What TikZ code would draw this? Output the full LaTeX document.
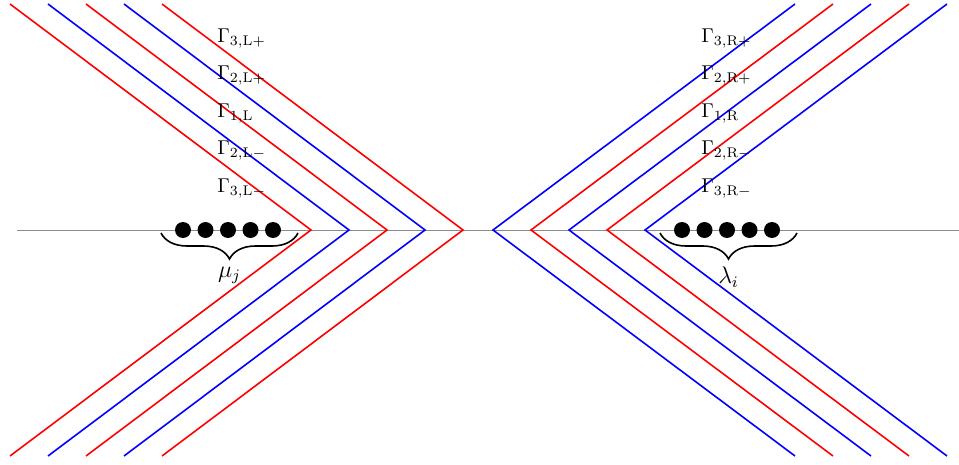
\documentclass[tikz,border=0pt]{standalone}
\usetikzlibrary{decorations.pathreplacing}
\definecolor{cred}{RGB}{255,0,0}
\definecolor{cblue}{RGB}{0,0,255}
\tikzset{
  contr/.style={line width=0.8pt},
  redc/.style={contr,draw=cred},
  bluec/.style={contr,draw=cblue},
  axisline/.style={line width=0.4pt,draw=black!45},
  dotpt/.style={circle,fill=black,inner sep=0pt,minimum size=8pt},
  bracec/.style={decorate,decoration={brace,mirror,amplitude=13pt},line width=0.8pt},
  glabel/.style={anchor=base west,inner sep=0pt},
  blabel/.style={midway,below=16.5pt,inner sep=0pt,font=\large}
}
\begin{document}
\begin{tikzpicture}[x=0.5pt,y=-0.5pt]
\useasboundingbox (0,0) rectangle (959,465);
% axis
\coordinate (axL) at (17,230);
\coordinate (axR) at (959,230);
\draw[axisline] (axL) -- (axR);
% left contours
\foreach \xv/\st in {311/redc,349/bluec,387/redc,425/bluec,463/redc}{
  \coordinate (v) at (\xv,230);
  \coordinate (t) at (\xv-301,4);
  \coordinate (b) at (\xv-301,456);
  \draw[\st] (t) -- (v) -- (b);
}
% right contours
\foreach \xv/\st in {493/bluec,531/redc,569/bluec,607/redc,645/bluec}{
  \coordinate (v) at (\xv,230);
  \coordinate (t) at (\xv+302,4);
  \coordinate (b) at (\xv+302,456);
  \draw[\st] (t) -- (v) -- (b);
}
% left labels
\node[glabel] (l3p) at (217,42.5) {$\Gamma_{3,\mathrm{L}+}$};
\node[glabel] (l2p) at (217,80) {$\Gamma_{2,\mathrm{L}+}$};
\node[glabel] (l1) at (217,117.5) {$\Gamma_{1,\mathrm{L}}$};
\node[glabel] (l2m) at (217,155) {$\Gamma_{2,\mathrm{L}-}$};
\node[glabel] (l3m) at (217,192.5) {$\Gamma_{3,\mathrm{L}-}$};
% right labels
\node[glabel] (r3p) at (701,42.5) {$\Gamma_{3,\mathrm{R}+}$};
\node[glabel] (r2p) at (701,80) {$\Gamma_{2,\mathrm{R}+}$};
\node[glabel] (r1) at (701,117.5) {$\Gamma_{1,\mathrm{R}}$};
\node[glabel] (r2m) at (701,155) {$\Gamma_{2,\mathrm{R}-}$};
\node[glabel] (r3m) at (701,192.5) {$\Gamma_{3,\mathrm{R}-}$};
% dots
\foreach \i/\x in {1/183,2/205.5,3/228,4/250.5,5/273}{
  \node[dotpt] (ld\i) at (\x,230) {};
}
\foreach \i/\x in {1/682,2/704.5,3/727,4/749.5,5/772}{
  \node[dotpt] (rd\i) at (\x,230) {};
}
% braces
\coordinate (lb1) at (161,233);
\coordinate (lb2) at (298,233);
\draw[bracec] (lb1) -- (lb2) node[blabel] (mu) {$\mu_j$};
\coordinate (rb1) at (660,233);
\coordinate (rb2) at (797,233);
\draw[bracec] (rb1) -- (rb2) node[blabel] (lam) {$\lambda_i$};
\end{tikzpicture}
\end{document}
